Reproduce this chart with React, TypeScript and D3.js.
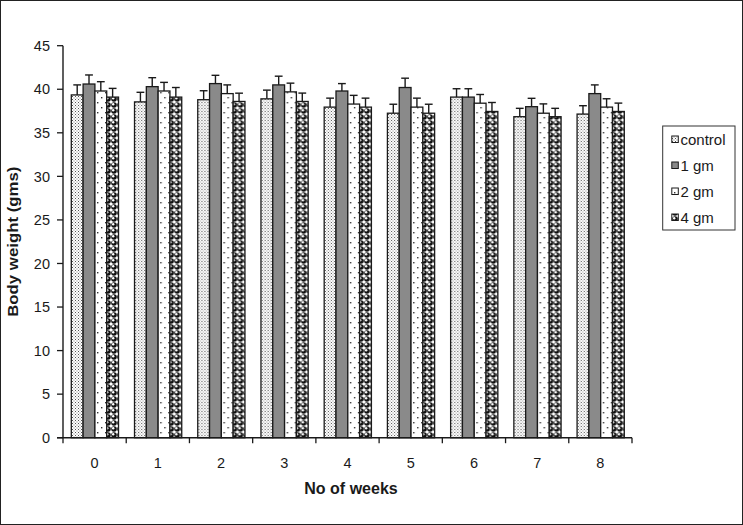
import React from "react";
import * as d3 from "d3";

const weeks = ["0", "1", "2", "3", "4", "5", "6", "7", "8"];
const seriesNames = ["control", "1 gm", "2 gm", "4 gm"];
const control = [39.35, 38.55, 38.8, 38.9, 37.95, 37.25, 39.1, 36.85, 37.15];
const gm1 = [40.6, 40.3, 40.65, 40.5, 39.8, 40.2, 39.1, 38.0, 39.5];
const gm2 = [39.8, 39.8, 39.5, 39.7, 38.3, 37.95, 38.4, 37.25, 37.95];
const gm4 = [39.1, 39.1, 38.6, 38.6, 37.95, 37.25, 37.45, 36.85, 37.45];
const controlErr = [1.15, 1.1, 1.03, 1.0, 1.03, 1.03, 0.96, 0.96, 0.96];
const gm1Err = [1.04, 1.03, 0.95, 1.0, 0.85, 1.07, 0.96, 0.96, 1.0];
const gm2Err = [1.07, 0.99, 1.0, 1.0, 1.0, 1.03, 1.0, 1.07, 0.96];
const gm4Err = [1.0, 1.1, 0.95, 0.96, 1.03, 1.03, 1.03, 0.96, 0.96];
const yTicks = [0, 5, 10, 15, 20, 25, 30, 35, 40, 45];

const values = [control, gm1, gm2, gm4];
const errors = [controlErr, gm1Err, gm2Err, gm4Err];
const fills = ["url(#pCtrl)", "#8a8a8a", "url(#p2gm)", "url(#p4gm)"];

export default function App() {
  const W = 743, H = 525;
  const x0 = 63, x1 = 632, yTop = 45.7, yBot = 437.7;
  const x = d3.scaleBand<string>().domain(weeks).range([x0, x1]).paddingInner(0).paddingOuter(0);
  const y = d3.scaleLinear().domain([0, 45]).range([yBot, yTop]);
  const groupPad = 8.3;
  const xs = d3
    .scaleBand<string>()
    .domain(seriesNames)
    .range([groupPad, x.bandwidth() - groupPad + 0.6])
    .padding(0);
  const font = "'Liberation Sans', Arial, sans-serif";
  const ink = "#1a1a1a";
  const boundaries = d3.range(weeks.length + 1).map((i) => x0 + i * x.bandwidth());

  return (
    <svg width={W} height={H} style={{ position: "absolute", left: 0, top: 0, background: "#fff" }} fontFamily={font}>
      <defs>
        <pattern id="pCtrl" width="3" height="3" patternUnits="userSpaceOnUse">
          <rect width="3" height="3" fill="#fff" />
          <rect x="0" y="0" width="1" height="1" fill="#555" />
          <rect x="1.5" y="1.5" width="1" height="1" fill="#777" />
        </pattern>
        <pattern id="p2gm" width="8" height="10" patternUnits="userSpaceOnUse">
          <rect width="8" height="10" fill="#fff" />
          <rect x="2" y="2" width="1.4" height="1.4" fill="#333" />
          <rect x="6" y="7" width="1.4" height="1.4" fill="#333" />
        </pattern>
        <pattern id="p4gm" width="6" height="6" patternUnits="userSpaceOnUse">
          <rect width="6" height="6" fill="#fff" />
          <circle cx="3" cy="3" r="2.8" fill="#111" />
          <circle cx="2.2" cy="2.2" r="1.2" fill="#fff" />
        </pattern>
      </defs>
      <rect x={0.5} y={0.5} width={W - 1} height={H - 1} fill="#fff" stroke="#222" strokeWidth={1} />

      {/* bars */}
      {weeks.map((w, i) => (
        <g key={w} transform={`translate(${x(w)},0)`}>
          {seriesNames.map((s, k) => {
            const v = values[k][i];
            const bx = xs(s)!;
            const bw = xs.bandwidth();
            const cx = bx + bw / 2;
            const yt = y(v + errors[k][i]);
            return (
              <g key={s}>
                <line x1={cx} x2={cx} y1={y(v)} y2={yt} stroke={ink} strokeWidth={1.4} />
                <line x1={cx - 3.9} x2={cx + 3.9} y1={yt} y2={yt} stroke={ink} strokeWidth={1.4} />
                <rect x={bx} y={y(v)} width={bw} height={yBot - y(v)} fill={fills[k]} stroke={ink} strokeWidth={1.3} />
              </g>
            );
          })}
        </g>
      ))}

      {/* y axis */}
      <line x1={x0} x2={x0} y1={yTop} y2={yBot} stroke={ink} strokeWidth={1.4} />
      {yTicks.map((t) => (
        <g key={t}>
          <line x1={x0 - 6} x2={x0} y1={y(t)} y2={y(t)} stroke={ink} strokeWidth={1.3} />
          <text x={50} y={y(t) + 5.2} textAnchor="end" fontSize={14.5} fill={ink}>
            {t}
          </text>
        </g>
      ))}

      {/* x axis */}
      <line x1={x0 - 6} x2={x1} y1={yBot} y2={yBot} stroke={ink} strokeWidth={1.4} />
      {boundaries.map((b, i) => (
        <line key={i} x1={b} x2={b} y1={yBot} y2={yBot + 5.5} stroke={ink} strokeWidth={1.3} />
      ))}
      {weeks.map((w) => (
        <text key={w} x={x(w)! + x.bandwidth() / 2} y={468} textAnchor="middle" fontSize={14.5} fill={ink}>
          {w}
        </text>
      ))}

      <text x={351} y={493.5} textAnchor="middle" fontSize={16} fontWeight="bold" fill={ink}>
        No of weeks
      </text>
      <text
        transform={`translate(17.5,${(yTop + yBot) / 2}) rotate(-90) scale(1.2,1)`}
        textAnchor="middle"
        fontSize={14}
        fontWeight="bold"
        fill={ink}
      >
        Body weight (gms)
      </text>

      {/* legend */}
      <rect x={662.7} y={126} width={72.3} height={104} fill="#fff" stroke="#333" strokeWidth={1} />
      {seriesNames.map((s, k) => {
        const by = 144.5 + k * 26;
        return (
          <g key={s}>
            <rect x={671.8} y={by - 8.5} width={6.5} height={6.5} fill={fills[k]} stroke={ink} strokeWidth={1} />
            <text x={680.5} y={by} fontSize={15} fill={ink}>
              {s}
            </text>
          </g>
        );
      })}
    </svg>
  );
}
